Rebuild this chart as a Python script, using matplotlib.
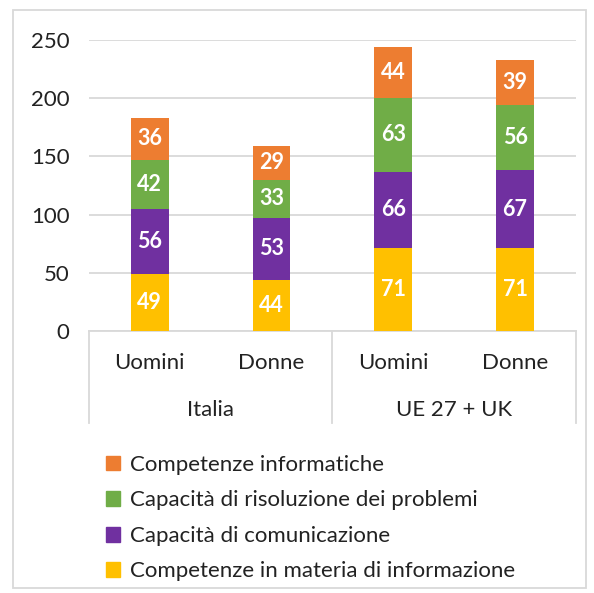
import matplotlib
matplotlib.use("Agg")
import matplotlib.pyplot as plt
from matplotlib.patches import Rectangle, Patch

plt.rcParams['font.family'] = ['Lato', 'DejaVu Sans']

groups = ["Italia", "UE 27 + UK"]
subcats = ["Uomini", "Donne", "Uomini", "Donne"]
series = ["Competenze in materia di informazione", "Capacità di comunicazione",
          "Capacità di risoluzione dei problemi", "Competenze informatiche"]
informazione = [49, 44, 71, 71]
comunicazione = [56, 53, 66, 67]
problemi = [42, 33, 63, 56]
informatiche = [36, 29, 44, 39]
colors = ["#FFC000", "#7030A0", "#70AD47", "#ED7D31"]
yticks = [0, 50, 100, 150, 200, 250]

fig = plt.figure(figsize=(5.94, 5.93), dpi=100)
ax = fig.add_axes([0.1498, 0.4418, 0.8199, 0.4907])

x = list(range(len(subcats)))
bottom = [0] * len(subcats)
handles = []
for name, vals, col in zip(series, [informazione, comunicazione, problemi, informatiche], colors):
    bars = ax.bar(x, vals, width=0.31, bottom=bottom, color=col, zorder=3)
    for xi, b, v in zip(x, bottom, vals):
        ax.text(xi, b + v / 2, str(v), ha='center', va='center', color='white',
                fontsize=15.5, fontweight='bold', zorder=4)
    bottom = [b + v for b, v in zip(bottom, vals)]
    handles.append(Patch(color=col, label=name))

ax.set_xlim(-0.5, 3.5)
ax.set_ylim(0, 250)
ax.set_yticks(yticks)
ax.yaxis.grid(True, color="#D9D9D9", linewidth=1.3, zorder=0)
ax.tick_params(axis='y', length=0, pad=14, labelsize=16, labelcolor="#222222")
ax.set_xticks(x)
ax.set_xticklabels(subcats)
ax.tick_params(axis='x', length=0, pad=16, labelsize=16, labelcolor="#222222")
for s in ['top', 'left', 'right']:
    ax.spines[s].set_visible(False)
ax.spines['bottom'].set_color("#D9D9D9")
ax.spines['bottom'].set_linewidth(1.3)

# group separators and labels
for xs in [-0.5, 1.5, 3.5]:
    ax.plot([xs, xs], [0, -0.316], transform=ax.get_xaxis_transform(),
            color="#D9D9D9", linewidth=1.3, clip_on=False)
for gi, g in enumerate(groups):
    ax.text(gi * 2 + 0.5, -0.27, g, transform=ax.get_xaxis_transform(),
            ha='center', va='center', fontsize=16, color="#222222")

fig.legend(handles=handles[::-1], loc='upper left', bbox_to_anchor=(0.178, 0.233),
           frameon=False, fontsize=16, handlelength=0.65, handleheight=0.65,
           handletextpad=0.45, labelspacing=0.7, borderaxespad=0, borderpad=0,
           labelcolor="#222222")

fig.patches.append(Rectangle((0.022, 0.008), 0.965, 0.975, transform=fig.transFigure,
                             fill=False, edgecolor="#D9D9D9", linewidth=1.3))

fig.savefig("out.png", dpi=100)
